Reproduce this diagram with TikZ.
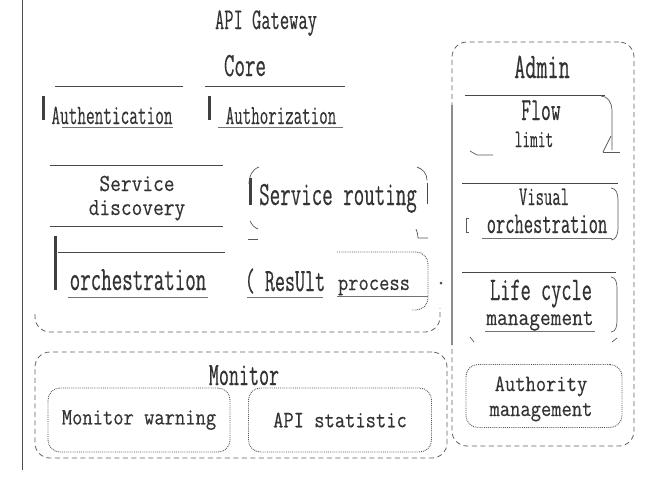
\documentclass[tikz,border=0pt]{standalone}
\usepackage{fontspec}
\newfontfamily\fnarrow[FakeStretch=0.6,FakeBold=0.3]{Latin Modern Mono}
\newfontfamily\fwide[FakeStretch=0.85,FakeBold=0.3]{Latin Modern Mono}
\newcommand\nf[1]{\fnarrow\fontsize{#1}{#1}\selectfont}
\newcommand\wf[1]{\fwide\fontsize{#1}{#1}\selectfont}
\begin{document}
\begin{tikzpicture}[x=1pt,y=-1pt,
  lbl/.style={inner sep=0pt, anchor=base, text=black!80},
  rule/.style={draw=black!72, line width=0.9pt},
  thinrule/.style={draw=black!55, line width=0.6pt},
  bar/.style={draw=black!75, line width=3pt},
  container/.style={draw=black!62, dashed, dash pattern=on 5pt off 3.5pt, line width=0.8pt, rounded corners=15pt},
  box/.style={draw=black!65, densely dotted, line width=0.9pt, rounded corners=12pt},
  corner/.style={draw=black!65, line width=0.7pt}]
\useasboundingbox (0,0) rectangle (646,483);
\fill[white] (0,0) rectangle (646,483);

% page rule at left
\coordinate (pl1) at (22,0);
\coordinate (pl2) at (22,470);
\draw[draw=black!70, line width=1pt] (pl1) -- (pl2);

% titles
\node[lbl, font=\nf{30}] (title) at (266,29) {API Gateway};
\node[lbl, font=\nf{34}] (core) at (245,76) {Core};

% Core container (visible bottom part)
\coordinate (cc1) at (35,314);
\coordinate (cc2) at (35,332);
\coordinate (cc3) at (440,332);
\coordinate (cc4) at (440,308);
\draw[container] (cc1) -- (cc2) -- (cc3) -- (cc4);

% Authentication
\node[lbl, font=\nf{28}] (auth) at (112,124) {Authentication};
\draw[rule] (55,86) -- (183,86);
\draw[bar] (43,96) -- (43,120);
\draw[thinrule] (62,127) -- (173,127);

% Authorization
\node[lbl, font=\nf{27.5}] (authz) at (281,124) {Authorization};
\draw[rule] (205,86) -- (345,86);
\draw[bar] (209,96) -- (209,120);
\draw[thinrule] (218,127) -- (343,127);

% Service discovery
\draw[rule] (50,165) -- (223,165);
\draw[rule] (50,226) -- (223,226);
\node[lbl, font=\wf{24.5}] (sd1) at (137,191) {Service};
\node[lbl, font=\wf{24.5}] (sd2) at (137,215) {discovery};

% Service routing
\node[lbl, font=\nf{34}] (sr) at (338,205) {Service routing};
\draw[bar] (250,178) -- (250,205);
\draw[rule] (427,183) -- (427,204);
\draw[corner] (249,184) to[out=90,in=200] (259,167);
\draw[corner] (417,167) to[out=-20,in=90] (427,180);
\draw[corner] (250,221) to[out=-60,in=160] (258,229);
\draw[corner] (248,239) -- (258,239);
\draw[corner] (416,229) to[out=-70,in=90] (418,238) -- (428,238);

% orchestration (core)
\node[lbl, font=\nf{34}] (orc) at (138,290) {orchestration};
\draw[bar] (55,236) -- (55,290);
\draw[rule] (58,252) -- (225,252);
\draw[thinrule] (68,297) -- (208,297);

% Result process
\node[lbl, font=\nf{32.5}] (res) at (285,291) {( ResUlt};
\node[lbl, font=\wf{23.5}] (proc) at (374,290) {process};
\draw[thinrule] (247,297) -- (323,297);
\draw[box] (337,252) -- (428,252) -- (428,310) -- (412,310);
\draw[thinrule] (337,296) -- (428,296);
\fill[black!70] (441,283) circle[radius=1.5];

% Admin container
\node[container, minimum width=182pt, minimum height=404pt, inner sep=0pt] (admin) at (543,244) {};
\node[lbl, font=\nf{36}] (adminl) at (542,78) {Admin};
\draw[draw=black!45, line width=1.1pt] (452,105) -- (452,345);

% Flow limit
\draw[rule] (465,95) -- (605,95);
\node[lbl, font=\nf{32}] (fl1) at (541,120) {Flow};
\node[lbl, font=\nf{25}] (fl2) at (534,147) {limit};
\draw[corner] (601,96) to[out=0,in=90] (612,110) -- (612,150);
\draw[corner] (470,151) -- (477,155) -- (493,155);
\draw[corner] (603,152) -- (611,136);
\draw[corner] (603,152) -- (620,152);

% Visual orchestration
\draw[rule] (462,183) -- (618,183);
\node[lbl, font=\nf{27}] (vo1) at (544,205) {Visual};
\node[lbl, font=\nf{30}] (vo2) at (547,233) {orchestration};
\draw[thinrule] (482,238) -- (612,238);
\draw[corner] (611,188) to[out=0,in=90] (618,200) -- (618,228) to[out=-90,in=0] (611,240);
\draw[corner] (469,218) -- (466,218) -- (466,232) -- (469,232);

% Life cycle management
\draw[rule] (462,272) -- (616,272);
\node[lbl, font=\nf{33}] (lc1) at (541,300) {Life cycle};
\node[lbl, font=\wf{24.5}] (lc2) at (540,325) {management};
\draw[thinrule] (485,331) -- (595,331);
\draw[corner] (611,277) to[out=0,in=90] (617,290) -- (617,320) to[out=-90,in=0] (611,332);
\draw[corner] (470,337) -- (474,342);
\draw[corner] (612,342) -- (617,338);

% Authority management
\node[box, minimum width=156pt, minimum height=63pt, inner sep=0pt] (authm) at (544,396) {};
\node[lbl, font=\wf{23.5}] (am1) at (541,391) {Authority};
\node[lbl, font=\wf{23.5}] (am2) at (541,416) {management};

% Monitor
\node[container, minimum width=412pt, minimum height=106pt, inner sep=0pt] (mon) at (241,405) {};
\node[lbl, font=\nf{32.5}] (monl) at (244,385) {Monitor};
\node[box, minimum width=182pt, minimum height=64pt, font=\wf{23.5}, text=black!80] (mw) at (139,420) {Monitor warning};
\node[box, minimum width=183pt, minimum height=64pt, font=\wf{23.5}, text=black!80] (as) at (340,420) {API statistic};
\end{tikzpicture}
\end{document}
